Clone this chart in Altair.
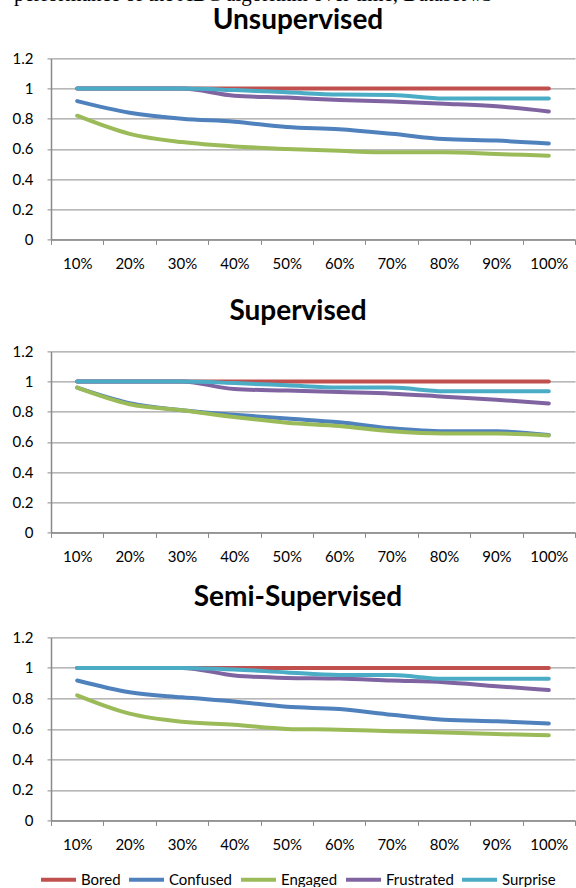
import altair as alt
import pandas as pd

caption = "performance of the ABC algorithm over time, Dataset #3"
titles = ["Unsupervised", "Supervised", "Semi-Supervised"]
pcts = ["10%", "20%", "30%", "40%", "50%", "60%", "70%", "80%", "90%", "100%"]
series = ["Bored", "Confused", "Engaged", "Frustrated", "Surprise"]
colors = ["#C0504D", "#4F81BD", "#9BBB59", "#8064A2", "#4BACC6"]
y_ticks = [0, 0.2, 0.4, 0.6, 0.8, 1.0, 1.2]

# Unsupervised
uns_bored = [1.0, 1.0, 1.0, 1.0, 1.0, 1.0, 1.0, 1.0, 1.0, 1.0]
uns_confused = [0.917, 0.84, 0.80, 0.78, 0.745, 0.73, 0.70, 0.665, 0.655, 0.636]
uns_engaged = [0.82, 0.70, 0.645, 0.616, 0.60, 0.587, 0.577, 0.577, 0.566, 0.555]
uns_frustrated = [1.0, 1.0, 1.0, 0.952, 0.94, 0.925, 0.915, 0.90, 0.882, 0.848]
uns_surprise = [1.0, 1.0, 1.0, 0.99, 0.975, 0.96, 0.958, 0.934, 0.934, 0.934]

# Supervised
sup_bored = [1.0, 1.0, 1.0, 1.0, 1.0, 1.0, 1.0, 1.0, 1.0, 1.0]
sup_confused = [0.96, 0.857, 0.81, 0.78, 0.755, 0.73, 0.69, 0.67, 0.67, 0.645]
sup_engaged = [0.96, 0.85, 0.81, 0.765, 0.727, 0.705, 0.67, 0.655, 0.655, 0.643]
sup_frustrated = [1.0, 1.0, 1.0, 0.95, 0.94, 0.93, 0.92, 0.90, 0.88, 0.855]
sup_surprise = [1.0, 1.0, 1.0, 0.99, 0.975, 0.96, 0.96, 0.936, 0.936, 0.936]

# Semi-Supervised
semi_bored = [1.0, 1.0, 1.0, 1.0, 1.0, 1.0, 1.0, 1.0, 1.0, 1.0]
semi_confused = [0.917, 0.84, 0.807, 0.78, 0.745, 0.73, 0.693, 0.66, 0.65, 0.636]
semi_engaged = [0.82, 0.70, 0.647, 0.627, 0.60, 0.595, 0.585, 0.577, 0.566, 0.558]
semi_frustrated = [1.0, 1.0, 1.0, 0.95, 0.934, 0.93, 0.917, 0.906, 0.88, 0.855]
semi_surprise = [1.0, 1.0, 1.0, 0.99, 0.97, 0.954, 0.954, 0.928, 0.928, 0.928]


def to_df(lists):
    rows = []
    for name, vals in zip(series, lists):
        for p, v in zip(pcts, vals):
            rows.append({"pct": p, "series": name, "value": v})
    return pd.DataFrame(rows)


FONT = "Lato"
GRID = "#8a8a8a"

legend = alt.Legend(
    title=None, orient="none", legendX=-12, legendY=801.5, direction="horizontal",
    symbolType="stroke", symbolSize=1225, symbolStrokeWidth=4,
    labelFont=FONT, labelFontSize=15, labelColor="#000000", labelOffset=3,
    columnPadding=0, padding=0,
)


def lines(lists):
    df = to_df(lists)
    return alt.Chart(df).mark_line(
        strokeWidth=4, strokeCap="round", strokeJoin="round", interpolate="monotone"
    ).encode(
        x=alt.X(
            "pct:N", sort=pcts, bandPosition=0.5,
            scale=alt.Scale(type="band", paddingInner=0, paddingOuter=0),
            axis=alt.Axis(title=None, tickBand="extent", grid=False, labelAngle=0,
                          tickSize=5, labelPadding=12, labelFontSize=15, labelFont=FONT,
                          labelColor="#000000", domainColor=GRID, tickColor=GRID,
                          domainWidth=1.5, tickWidth=1),
        ),
        y=alt.Y(
            "value:Q", scale=alt.Scale(domain=[0, 1.2], nice=False),
            axis=alt.Axis(title=None, values=y_ticks, format=".1~f", grid=True,
                          gridColor=GRID, gridWidth=1, tickSize=4, labelPadding=14,
                          labelFontSize=15, labelFont=FONT, labelColor="#000000",
                          domainColor=GRID, tickColor=GRID, domainWidth=1.5, tickWidth=1),
        ),
        color=alt.Color("series:N", sort=series,
                        scale=alt.Scale(domain=series, range=colors),
                        legend=legend),
    )


def title_mark(text, y):
    return alt.Chart(pd.DataFrame({"t": [text]})).mark_text(
        font=FONT, fontSize=28, fontWeight="bold", align="center",
        baseline="alphabetic", color="#000000",
    ).encode(text="t:N", x=alt.value(247), y=alt.value(y))


def panel(title, lists, height, title_y, extra=None):
    layers = [lines(lists), title_mark(title, title_y)]
    if extra is not None:
        layers.append(extra)
    return alt.layer(*layers).properties(width=524, height=height)


cap_text = alt.Chart(pd.DataFrame({"caption": [caption]})).mark_text(
    font="Liberation Serif", fontSize=21, align="left", baseline="alphabetic",
    color="#000000",
).encode(text="caption:N", x=alt.value(-37), y=alt.value(-57))

p1 = panel(titles[0], [uns_bored, uns_confused, uns_engaged, uns_frustrated, uns_surprise], 181, -29, cap_text)
p2 = panel(titles[1], [sup_bored, sup_confused, sup_engaged, sup_frustrated, sup_surprise], 181, -31)
p3 = panel(titles[2], [semi_bored, semi_confused, semi_engaged, semi_frustrated, semi_surprise], 183, -31)

chart = alt.vconcat(
    alt.vconcat(p1, p2, spacing=27), p3, spacing=20
).properties(
    padding={"left": 12, "top": -15.6, "right": 0, "bottom": -1}
).configure_view(stroke=None)

chart.save("out.html", embed_options={"renderer": "svg", "actions": False})
